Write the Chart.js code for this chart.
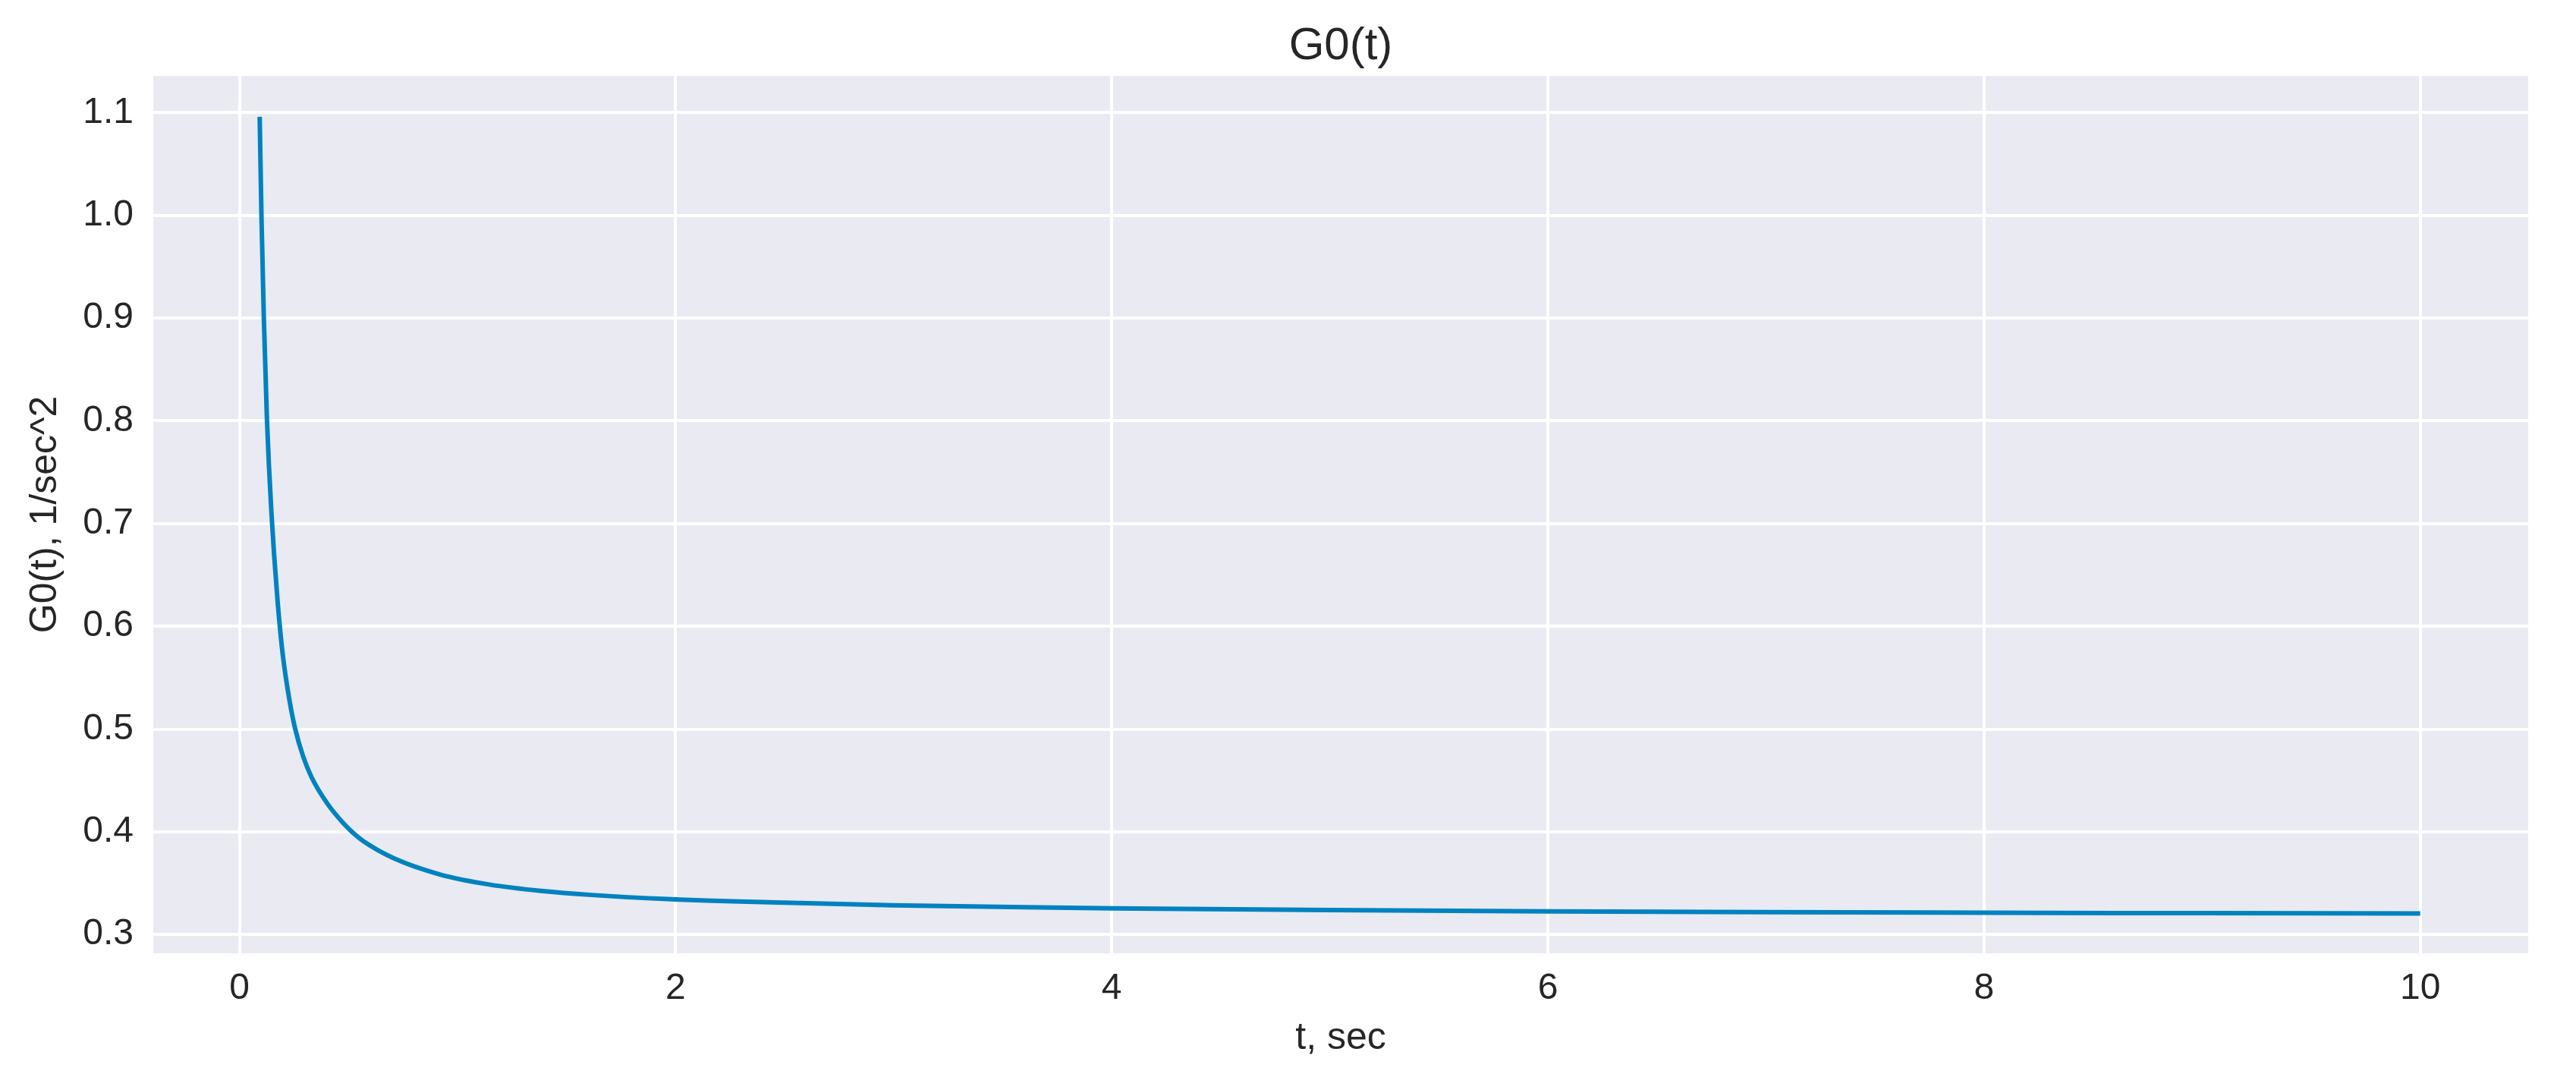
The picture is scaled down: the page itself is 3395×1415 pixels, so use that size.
<!DOCTYPE html>
<html>
<head>
<meta charset="utf-8">
<title>G0(t)</title>
<script src="https://cdn.jsdelivr.net/npm/chart.js@4.4.1/dist/chart.umd.min.js"></script>
<style>
  html, body { margin: 0; padding: 0; background: #ffffff; }
  #wrap { width: 3395px; height: 1415px; }
</style>
</head>
<body>
<div id="wrap"><canvas id="myChart" width="3395" height="1415"></canvas></div>
<script>
// t, sec
const tValues = [
  0.093, 0.101, 0.112, 0.126, 0.135, 0.147, 0.159, 0.176, 0.199, 0.228,
  0.256, 0.292, 0.330, 0.403, 0.478, 0.521, 0.571, 0.71, 0.919, 1.151,
  1.383, 1.615, 1.963, 2.5, 3.0, 3.6, 4.0, 5.0, 6.0, 7.0,
  8.0, 9.0, 10.0
];
// G0(t), 1/sec^2
const g0Values = [
  1.096, 1.000, 0.900, 0.803, 0.758, 0.710, 0.670, 0.622, 0.572, 0.530,
  0.500, 0.4735, 0.4535, 0.4275, 0.408, 0.399, 0.3905, 0.374, 0.3585, 0.3485,
  0.3425, 0.3385, 0.3345, 0.331, 0.3285, 0.3265, 0.3255, 0.3238, 0.3226, 0.3218,
  0.3212, 0.3208, 0.3205
];
const xTicks = [0, 2, 4, 6, 8, 10];
const yTicks = [0.3, 0.4, 0.5, 0.6, 0.7, 0.8, 0.9, 1.0, 1.1];
const chartTitle = 'G0(t)';

const FONT = '"Liberation Sans", Arial, sans-serif';
const TEXT = '#262626';

// 軸の背景（seaborn darkgrid 風）
const plotBackground = {
  id: 'plotBackground',
  beforeDraw(chart) {
    const { ctx, chartArea: a } = chart;
    ctx.save();
    ctx.fillStyle = '#ffffff';
    ctx.fillRect(0, 0, chart.width, chart.height);
    ctx.fillStyle = '#EAEAF2';
    ctx.fillRect(a.left, a.top, a.right - a.left, a.bottom - a.top);
    ctx.restore();
  }
};

// タイトルはプロット領域の中央に置く
const areaTitle = {
  id: 'areaTitle',
  afterDraw(chart) {
    const { ctx, chartArea: a } = chart;
    ctx.save();
    ctx.fillStyle = TEXT;
    ctx.font = '60px ' + FONT;
    ctx.textAlign = 'center';
    ctx.textBaseline = 'alphabetic';
    ctx.fillText(chartTitle, (a.left + a.right) / 2, 78);
    ctx.restore();
  }
};

const points = tValues.map((t, i) => ({ x: t, y: g0Values[i] }));

const ctx = document.getElementById('myChart').getContext('2d');
new Chart(ctx, {
  type: 'line',
  data: {
    datasets: [{
      label: 'G0(t)',
      data: points,
      borderColor: '#0182C0',
      borderWidth: 6,
      pointRadius: 0,
      fill: false,
      cubicInterpolationMode: 'monotone'
    }]
  },
  options: {
    responsive: false,
    animation: false,
    layout: { padding: { left: 0, right: 63, top: 100, bottom: 0 } },
    scales: {
      x: {
        type: 'linear',
        min: -0.395,
        max: 10.495,
        afterBuildTicks: s => { s.ticks = xTicks.map(v => ({ value: v })); },
        afterFit: s => { s.height = 159; },
        grid: { color: '#ffffff', lineWidth: 4, drawTicks: false },
        border: { display: false },
        ticks: {
          padding: 18,
          color: TEXT,
          font: { family: FONT, size: 48 },
          callback: v => String(v)
        },
        title: {
          display: true,
          text: 't, sec',
          color: TEXT,
          font: { family: FONT, size: 50 },
          padding: { top: 0, bottom: 17 }
        }
      },
      y: {
        type: 'linear',
        min: 0.2817,
        max: 1.1358,
        afterBuildTicks: s => { s.ticks = yTicks.map(v => ({ value: v })); },
        afterFit: s => { s.width = 202; },
        grid: { color: '#ffffff', lineWidth: 4, drawTicks: false },
        border: { display: false },
        ticks: {
          padding: 26,
          color: TEXT,
          font: { family: FONT, size: 48 },
          callback: v => v.toFixed(1)
        },
        title: {
          display: true,
          text: 'G0(t), 1/sec^2',
          color: TEXT,
          font: { family: FONT, size: 50 },
          padding: { top: 30, bottom: 0 }
        }
      }
    },
    plugins: {
      legend: { display: false },
      tooltip: { enabled: false },
      title: { display: false }
    }
  },
  plugins: [plotBackground, areaTitle]
});
</script>
</body>
</html>
